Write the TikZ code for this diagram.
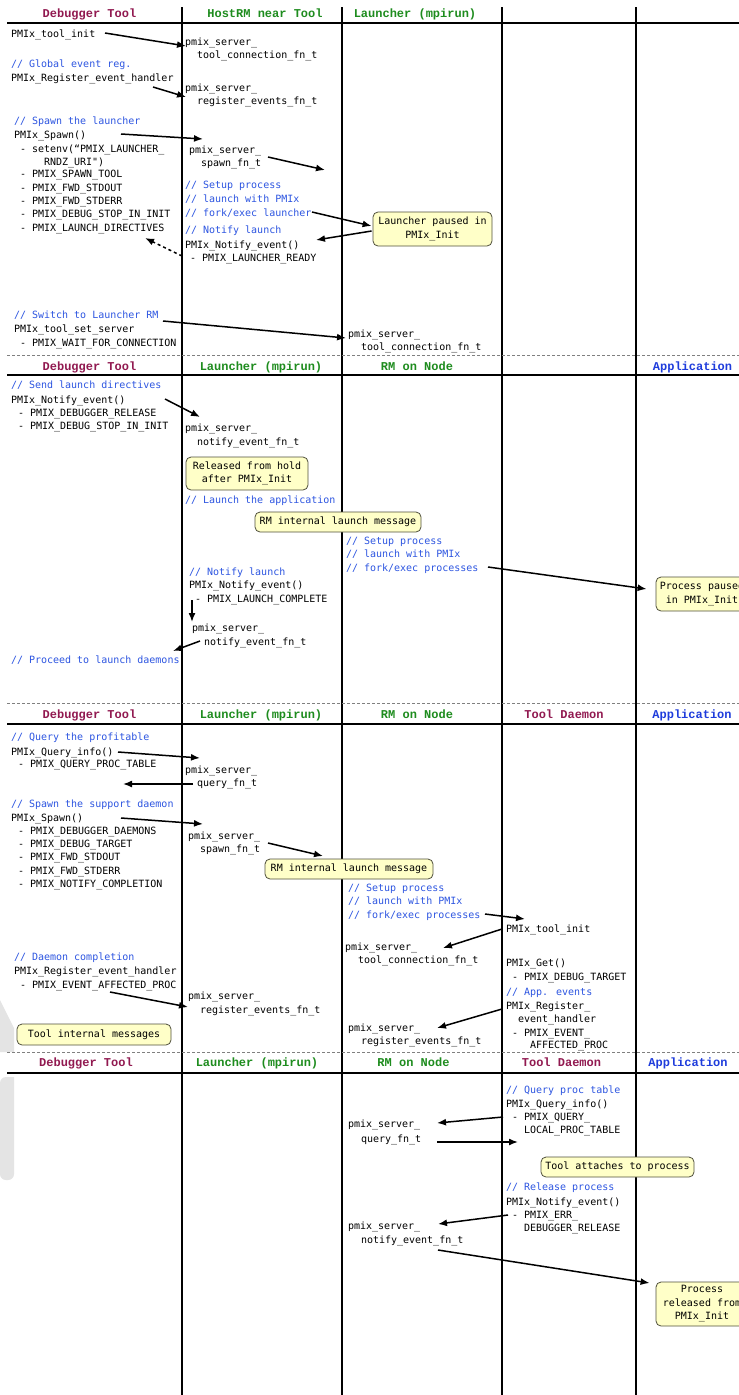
\documentclass[tikz,border=0pt]{standalone}
\usepackage{fontspec}
\usetikzlibrary{arrows.meta}
\newfontfamily\bodyf{DejaVu Sans Mono}
\newfontfamily\headf{Liberation Mono}
\definecolor{cmaroon}{RGB}{145,25,80}
\definecolor{cgreen}{RGB}{30,140,30}
\definecolor{cblue}{RGB}{30,60,220}
\definecolor{ccomment}{RGB}{45,85,225}
\definecolor{cnote}{RGB}{255,255,200}
\definecolor{cnoteline}{RGB}{80,80,60}
\definecolor{cwater}{RGB}{228,228,228}
\tikzset{
  txt/.style={anchor=base west, inner sep=0pt, outer sep=0pt, font=\bodyf\fontsize{10}{12}\selectfont},
  cmt/.style={txt, text=ccomment},
  hdr/.style={anchor=base, inner sep=0pt, font=\headf\bfseries\fontsize{12}{14}\selectfont},
  hm/.style={hdr, text=cmaroon},
  hg/.style={hdr, text=cgreen},
  hb/.style={hdr, text=cblue},
  note/.style={draw=cnoteline, fill=cnote, line width=0.8pt, rounded corners=5pt, inner sep=0pt, align=center, font=\bodyf\fontsize{10}{13.5}\selectfont},
  msg/.style={-{Latex[length=9pt,width=7pt]}, line width=1.5pt},
  lane/.style={line width=2pt},
  hrule/.style={line width=1.6pt},
  sep/.style={dash pattern=on 3pt off 2pt, line width=0.6pt, draw=gray},
}
\begin{document}
\begin{tikzpicture}[x=1pt, y=-1pt]
\useasboundingbox (0,0) rectangle (739,1395);
\fill[white] (0,0) rectangle (739,1395);
\clip (0,0) rectangle (739,1395);

% faint watermark fragment at the left edge
\fill[cwater] (0,1000) -- (14,1028) -- (14,1052) -- (0,1052) -- cycle;
\fill[cwater] (0,1077) -- (14,1077) -- (14,1168) [rounded corners=6pt] -- (14,1180) -- (0,1180) -- cycle;

% lanes
\foreach \lx in {182,342,502,636} \draw[lane] (\lx,7) -- (\lx,1395);
\foreach \ly in {23,375,724,1073} \draw[hrule] (7,\ly) -- (739,\ly);
\foreach \ly in {355,703,1052} \draw[sep] (7,\ly) -- (739,\ly);

% headers
\node[hm] (h1a) at (89.5,17.5) {Debugger Tool};
\node[hg] (h1b) at (265,17.5) {HostRM near Tool};
\node[hg] (h1c) at (415,17.5) {Launcher (mpirun)};

\node[hm] (h2a) at (89.5,370) {Debugger Tool};
\node[hg] (h2b) at (261,370) {Launcher (mpirun)};
\node[hg] (h2c) at (417,370) {RM on Node};
\node[hb] (h2e) at (692.5,370) {Application};

\node[hm] (h3a) at (89.5,718.5) {Debugger Tool};
\node[hg] (h3b) at (261,718.5) {Launcher (mpirun)};
\node[hg] (h3c) at (417,718.5) {RM on Node};
\node[hm] (h3d) at (564,718.5) {Tool Daemon};
\node[hb] (h3e) at (692,718.5) {Application};

\node[hm] (h4a) at (86,1066.5) {Debugger Tool};
\node[hg] (h4b) at (257,1066.5) {Launcher (mpirun)};
\node[hg] (h4c) at (413.5,1066.5) {RM on Node};
\node[hm] (h4d) at (561.5,1066.5) {Tool Daemon};
\node[hb] (h4e) at (688,1066.5) {Application};

% ---------------- section 1
\node[txt] (a1) at (11,37) {PMIx\_tool\_init};
\node[txt] (a2) at (185,45.5) {pmix\_server\_};
\node[txt] (a3) at (197,58.5) {tool\_connection\_fn\_t};
\node[cmt] (a4) at (11,67.5) {// Global event reg.};
\node[txt] (a5) at (11,81.5) {PMIx\_Register\_event\_handler};
\node[txt] (a6) at (185,91) {pmix\_server\_};
\node[txt] (a7) at (197,104) {register\_events\_fn\_t};
\node[cmt] (a8) at (14,124.5) {// Spawn the launcher};
\node[txt] (a9) at (14,138.5) {PMIx\_Spawn()};
\node[txt] (a10) at (20,152) {- setenv(“PMIX\_LAUNCHER\_};
\node[txt] (a11) at (44,165) {RNDZ\_URI")};
\node[txt] (a12) at (20,177.5) {- PMIX\_SPAWN\_TOOL};
\node[txt] (a13) at (20,191) {- PMIX\_FWD\_STDOUT};
\node[txt] (a14) at (20,204) {- PMIX\_FWD\_STDERR};
\node[txt] (a15) at (20,217.5) {- PMIX\_DEBUG\_STOP\_IN\_INIT};
\node[txt] (a16) at (20,231) {- PMIX\_LAUNCH\_DIRECTIVES};
\node[txt] (a17) at (189,153) {pmix\_server\_};
\node[txt] (a18) at (201,166.5) {spawn\_fn\_t};
\node[cmt] (a19) at (185,188.5) {// Setup process};
\node[cmt] (a20) at (185,202.5) {// launch with PMIx};
\node[cmt] (a21) at (185,216) {// fork/exec launcher};
\node[cmt] (a22) at (185,233.5) {// Notify launch};
\node[txt] (a23) at (185,248) {PMIx\_Notify\_event()};
\node[txt] (a24) at (190,261) {- PMIX\_LAUNCHER\_READY};
\node[note, minimum width=119pt, minimum height=34pt] (n1) at (432.5,229) {Launcher paused in\\PMIx\_Init};
\node[cmt] (a27) at (14,318.5) {// Switch to Launcher RM};
\node[txt] (a28) at (14,332.5) {PMIx\_tool\_set\_server};
\node[txt] (a29) at (20,346) {- PMIX\_WAIT\_FOR\_CONNECTION};
\node[txt] (a25) at (348,337) {pmix\_server\_};
\node[txt] (a26) at (361,350.5) {tool\_connection\_fn\_t};

% ---------------- section 2
\node[cmt] (b1) at (11,388.5) {// Send launch directives};
\node[txt] (b2) at (11,403) {PMIx\_Notify\_event()};
\node[txt] (b3) at (18,416.5) {- PMIX\_DEBUGGER\_RELEASE};
\node[txt] (b4) at (18,429.5) {- PMIX\_DEBUG\_STOP\_IN\_INIT};
\node[txt] (b5) at (185,431.5) {pmix\_server\_};
\node[txt] (b6) at (197,445.5) {notify\_event\_fn\_t};
\node[note, minimum width=122pt, minimum height=33pt] (n2) at (247,473.5) {Released from hold\\after PMIx\_Init};
\node[cmt] (b7) at (185,503.5) {// Launch the application};
\node[note, minimum width=166pt, minimum height=20pt] (n3) at (338,522) {RM internal launch message};
\node[cmt] (b8) at (346,544) {// Setup process};
\node[cmt] (b9) at (346,557.5) {// launch with PMIx};
\node[cmt] (b10) at (346,571) {// fork/exec processes};
\node[note, minimum width=92pt, minimum height=34pt] (n4) at (702,594) {Process paused\\in PMIx\_Init};
\node[cmt] (b11) at (189,575.5) {// Notify launch};
\node[txt] (b12) at (189,588.5) {PMIx\_Notify\_event()};
\node[txt] (b13) at (195,602) {- PMIX\_LAUNCH\_COMPLETE};
\node[txt] (b14) at (192,631.5) {pmix\_server\_};
\node[txt] (b15) at (204,645.5) {notify\_event\_fn\_t};
\node[cmt] (b16) at (11,663.5) {// Proceed to launch daemons};

% ---------------- section 3
\node[cmt] (c1) at (11,740.5) {// Query the profitable};
\node[txt] (c2) at (11,755) {PMIx\_Query\_info()};
\node[txt] (c3) at (18,767.5) {- PMIX\_QUERY\_PROC\_TABLE};
\node[txt] (c4) at (185,773.5) {pmix\_server\_};
\node[txt] (c5) at (197,786.5) {query\_fn\_t};
\node[cmt] (c6) at (11,807.5) {// Spawn the support daemon};
\node[txt] (c7) at (11,821) {PMIx\_Spawn()};
\node[txt] (c8) at (18,834.5) {- PMIX\_DEBUGGER\_DAEMONS};
\node[txt] (c9) at (18,847.5) {- PMIX\_DEBUG\_TARGET};
\node[txt] (c10) at (18,860.5) {- PMIX\_FWD\_STDOUT};
\node[txt] (c11) at (18,874) {- PMIX\_FWD\_STDERR};
\node[txt] (c12) at (18,887) {- PMIX\_NOTIFY\_COMPLETION};
\node[txt] (c13) at (188,839) {pmix\_server\_};
\node[txt] (c14) at (200,852.5) {spawn\_fn\_t};
\node[note, minimum width=168pt, minimum height=20pt] (n5) at (349,869) {RM internal launch message};
\node[cmt] (c15) at (348,891.5) {// Setup process};
\node[cmt] (c16) at (348,904.5) {// launch with PMIx};
\node[cmt] (c17) at (348,918) {// fork/exec processes};
\node[txt] (c18) at (506,932) {PMIx\_tool\_init};
\node[txt] (c19) at (345,950) {pmix\_server\_};
\node[txt] (c20) at (358,963.5) {tool\_connection\_fn\_t};
\node[txt] (c21) at (506,966.5) {PMIx\_Get()};
\node[txt] (c22) at (512,980.5) {- PMIX\_DEBUG\_TARGET};
\node[cmt] (c23) at (506,995) {// App. events};
\node[txt] (c24) at (506,1009) {PMIx\_Register\_};
\node[txt] (c25) at (518,1022.5) {event\_handler};
\node[txt] (c26) at (512,1036.5) {- PMIX\_EVENT\_};
\node[txt] (c27) at (530,1048.5) {AFFECTED\_PROC};
\node[txt] (c28) at (348,1031) {pmix\_server\_};
\node[txt] (c29) at (361,1044.5) {register\_events\_fn\_t};
\node[cmt] (c30) at (14,960.5) {// Daemon completion};
\node[txt] (c31) at (14,974.5) {PMIx\_Register\_event\_handler};
\node[txt] (c32) at (20,988) {- PMIX\_EVENT\_AFFECTED\_PROC};
\node[txt] (c33) at (188,999.5) {pmix\_server\_};
\node[txt] (c34) at (200,1013) {register\_events\_fn\_t};
\node[note, minimum width=154pt, minimum height=21pt] (n6) at (94,1034.5) {Tool internal messages};

% ---------------- section 4
\node[cmt] (d1) at (506,1093.5) {// Query proc table};
\node[txt] (d2) at (506,1107) {PMIx\_Query\_info()};
\node[txt] (d3) at (512,1120.5) {- PMIX\_QUERY\_};
\node[txt] (d4) at (524,1133.5) {LOCAL\_PROC\_TABLE};
\node[txt] (d5) at (348,1127.5) {pmix\_server\_};
\node[txt] (d6) at (361,1142) {query\_fn\_t};
\node[note, minimum width=153pt, minimum height=20pt] (n7) at (617.5,1167) {Tool attaches to process};
\node[cmt] (d7) at (506,1190.5) {// Release process};
\node[txt] (d8) at (506,1205.5) {PMIx\_Notify\_event()};
\node[txt] (d9) at (512,1218.5) {- PMIX\_ERR\_};
\node[txt] (d10) at (524,1231.5) {DEBUGGER\_RELEASE};
\node[txt] (d11) at (348,1229) {pmix\_server\_};
\node[txt] (d12) at (361,1243) {notify\_event\_fn\_t};
\node[note, minimum width=92pt, minimum height=44pt] (n8) at (702,1304) {Process\\released from\\PMIx\_Init};

% ---------------- arrows
\draw[msg] ([shift={(94,-4)}]a1.base west) -- ([shift={(1,0.5)}]a2.base west);
\draw[msg] ([shift={(142,5.5)}]a5.base west) -- ([shift={(1,6)}]a6.base west);
\draw[msg] ([shift={(107,-4.5)}]a9.base west) -- ([shift={(14,-14)}]a17.base west);
\draw[msg] ([shift={(67,-9.5)}]a18.base west) -- ([shift={(124,3.5)}]a18.base west);
\draw[msg] ([shift={(127,-4)}]a21.base west) -- ([shift={(-1,-3)}]n1.west);
\draw[msg] ([shift={(-1,2)}]n1.west) -- ([shift={(131,-8)}]a23.base west);
\draw[msg, dash pattern=on 3pt off 3pt] ([shift={(-8,-5)}]a24.base west) -- ([shift={(125,7)}]a16.base west);
\draw[msg] ([shift={(149,2.5)}]a27.base west) -- ([shift={(-2,1)}]a25.base west);

\draw[msg] ([shift={(154,-4)}]b2.base west) -- ([shift={(15,-14.5)}]b5.base west);
\draw[msg] ([shift={(142,-4)}]b10.base west) -- ([shift={(-9,-5)}]n4.west);
\draw[msg] ([shift={(-3,-2)}]b13.base west) -- ([shift={(0,-9.5)}]b14.base west);
\draw[msg] ([shift={(-4,-4.5)}]b15.base west) -- ([shift={(162,-12.5)}]b16.base west);

\draw[msg] ([shift={(107,-3)}]c2.base west) -- ([shift={(15,-15.5)}]c4.base west);
\draw[msg] ([shift={(-4,-2.5)}]c5.base west) -- ([shift={(105,16.5)}]c3.base west);
\draw[msg] ([shift={(110,-3)}]c7.base west) -- ([shift={(15,-15)}]c13.base west);
\draw[msg] ([shift={(68,-9.5)}]c14.base west) -- ([shift={(123,3.5)}]c14.base west);
\draw[msg] ([shift={(137,-4)}]c17.base west) -- ([shift={(19,-13)}]c18.base west);
\draw[msg] ([shift={(-4,-3)}]c18.base west) -- ([shift={(98,-2)}]c19.base west);
\draw[msg] ([shift={(90,4)}]c32.base west) -- ([shift={(0,7.5)}]c33.base west);
\draw[msg] ([shift={(-4,0)}]c24.base west) -- ([shift={(89,-3)}]c28.base west);

\draw[msg] ([shift={(-9,-3.5)}]d3.base west) -- ([shift={(89,-4.5)}]d5.base west);
\draw[msg] ([shift={(76,0)}]d6.base west) -- ([shift={(157,0)}]d6.base west);
\draw[msg] ([shift={(-4,-3.5)}]d9.base west) -- ([shift={(90,-5)}]d11.base west);
\draw[msg] ([shift={(77,7)}]d12.base west) -- ([shift={(-6,-21)}]n8.west);
\end{tikzpicture}
\end{document}
